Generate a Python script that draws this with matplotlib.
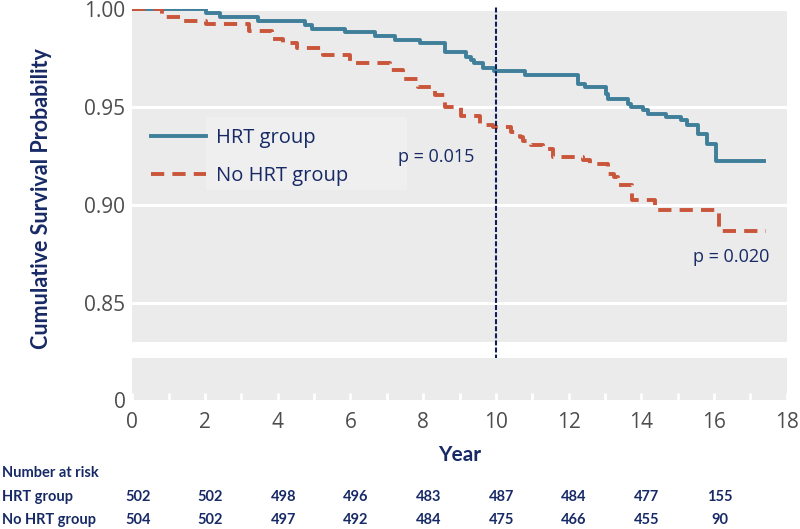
import matplotlib
matplotlib.use("Agg")
import matplotlib.pyplot as plt
import matplotlib.transforms as mtransforms
from matplotlib.patches import Rectangle

# Kaplan-Meier step points (time in years, survival)
hrt_time = [0, 2.04, 2.41, 3.46, 4.74, 4.93, 5.84, 6.67, 7.22, 7.91, 8.59, 9.19,
            9.32, 9.41, 9.64, 9.96, 10.79, 12.25, 12.46, 13.03, 13.08, 13.63,
            13.72, 14.06, 14.18, 14.68, 15.09, 15.27, 15.55, 15.82, 16.06, 17.38]
hrt_surv = [1.000, 0.9983, 0.9962, 0.9942, 0.9919, 0.9898, 0.9882, 0.9865,
            0.9843, 0.9826, 0.9783, 0.9757, 0.9740, 0.9723, 0.9702, 0.9684,
            0.9663, 0.9617, 0.9603, 0.9569, 0.9543, 0.9518, 0.9500, 0.9483,
            0.9463, 0.9449, 0.9432, 0.9407, 0.9364, 0.9313, 0.9224, 0.9224]

nohrt_time = [0, 0.82, 1.31, 2.04, 3.20, 3.85, 4.15, 4.52, 5.25, 5.98, 7.08,
              7.45, 7.86, 8.32, 8.59, 9.05, 9.55, 9.91, 10.42, 10.65, 10.75,
              10.97, 11.29, 11.57, 12.39, 12.58, 13.08, 13.26, 13.35, 13.74,
              14.38, 16.15, 17.43]
nohrt_surv = [1.000, 0.9960, 0.9942, 0.9925, 0.9888, 0.9850, 0.9826, 0.9803,
              0.9766, 0.9723, 0.9689, 0.9643, 0.9603, 0.9560, 0.9500, 0.9453,
              0.9407, 0.9398, 0.9372, 0.9345, 0.9324, 0.9304, 0.9287, 0.9244,
              0.9227, 0.9207, 0.9159, 0.9142, 0.9104, 0.9025, 0.8974, 0.8868,
              0.8868]

risk_years = [0, 2, 4, 6, 8, 10, 12, 14, 16]
risk_hrt = [502, 502, 498, 496, 483, 487, 484, 477, 155]
risk_nohrt = [504, 502, 497, 492, 484, 475, 466, 455, 90]

upper_ticks = [0.85, 0.90, 0.95, 1.00]
x_major = list(range(0, 19, 2))
x_minor = list(range(1, 18, 2))

BG = "#ebebeb"
NAVY = "#172a66"
TICK = "#4d4d4d"
BLUE = "#3f7f9a"
RED = "#c9553a"
TICK_FONT = "Open Sans"
BOLD_FONT = "Lato"

fig = plt.figure(figsize=(8, 5.29), dpi=100)
ax = fig.add_axes([0.1654, 0.354, 0.818, 0.6284])
ax_low = fig.add_axes([0.1654, 0.2439, 0.818, 0.0788])

for a in (ax, ax_low):
    a.set_facecolor(BG)
    for s in a.spines.values():
        s.set_visible(False)
    a.set_xlim(0, 18)

# upper panel
ax.set_ylim(0.83, 1.0)
ax.set_yticks(upper_ticks)
ax.set_yticklabels([f"{v:.2f}" for v in upper_ticks])
ax.grid(axis="y", color="white", linewidth=2.2)
ax.set_axisbelow(True)
ax.set_xticks([])
ax.tick_params(axis="y", length=0, pad=5, labelsize=15, labelcolor=TICK)
for lab in ax.get_yticklabels():
    lab.set_fontfamily(TICK_FONT)

# light box behind legend text
ax.add_patch(Rectangle((2.03, 0.9075), 5.52, 0.0374, facecolor="#efefef",
                       edgecolor="none", zorder=1))

ax.step(hrt_time, hrt_surv, where="post", color=BLUE, linewidth=2.8,
        zorder=3, label="HRT group")
ax.step(nohrt_time, nohrt_surv, where="post", color=RED, linewidth=2.8,
        dashes=(3.4, 2.1), zorder=3, label="No HRT group")

ax.axvline(10, ymin=-0.160, ymax=1.010, color="#0d1f5c", linewidth=1.5,
           dashes=(2.4, 1.0), clip_on=False, zorder=4)

ax.text(8.36, 0.9245, "p = 0.015", ha="center", va="center", fontsize=13,
        color=NAVY, family=TICK_FONT)
ax.text(16.48, 0.8733, "p = 0.020", ha="center", va="center", fontsize=13,
        color=NAVY, family=TICK_FONT)

leg = ax.legend(loc="upper left", bbox_to_anchor=(0.0286, 0.644), frameon=False,
                borderpad=0, borderaxespad=0, handlelength=2.74,
                handletextpad=0.5, labelspacing=0.92,
                prop={"family": TICK_FONT, "size": 14.5})
for t in leg.get_texts():
    t.set_color(NAVY)

ax.set_ylabel("Cumulative Survival Probability", fontsize=15.5,
              fontweight="bold", color=NAVY, family=BOLD_FONT)
ax.yaxis.set_label_coords(-0.1227, 0.43)

# lower panel (axis break)
ax_low.set_ylim(0, 1)
ax_low.set_yticks([0])
ax_low.set_yticklabels(["0"])
ax_low.set_xticks(x_major)
ax_low.set_xticks(x_minor, minor=True)
ax_low.set_xticklabels([str(v) for v in x_major])
ax_low.tick_params(axis="x", which="both", direction="in", color="white",
                   length=5, width=2, pad=9, labelsize=15, labelcolor=TICK)
ax_low.tick_params(axis="y", length=0, pad=5, labelsize=15, labelcolor=TICK)
for lab in ax_low.get_xticklabels() + ax_low.get_yticklabels():
    lab.set_fontfamily(TICK_FONT)
ax_low.set_xlabel("Year", fontsize=15, fontweight="bold", color=NAVY,
                  family=BOLD_FONT, labelpad=8)

# number at risk table
trans = mtransforms.blended_transform_factory(ax_low.transData, fig.transFigure)
row_y = [1 - 473 / 529, 1 - 497 / 529, 1 - 520 / 529]
fig.text(0.003, row_y[0], "Number at risk", ha="left", va="center",
         fontsize=10.5, fontweight="bold", color=NAVY, family=BOLD_FONT)
fig.text(0.003, row_y[1], "HRT group", ha="left", va="center",
         fontsize=10.5, fontweight="bold", color=NAVY, family=BOLD_FONT)
fig.text(0.003, row_y[2], "No HRT group", ha="left", va="center",
         fontsize=10.5, fontweight="bold", color=NAVY, family=BOLD_FONT)
for yr, a, b in zip(risk_years, risk_hrt, risk_nohrt):
    fig.text(yr + 0.15, row_y[1], str(a), transform=trans, ha="center",
             va="center", fontsize=10.5, fontweight="bold", color=NAVY,
             family=BOLD_FONT)
    fig.text(yr + 0.15, row_y[2], str(b), transform=trans, ha="center",
             va="center", fontsize=10.5, fontweight="bold", color=NAVY,
             family=BOLD_FONT)

fig.savefig("out.png", dpi=100)
